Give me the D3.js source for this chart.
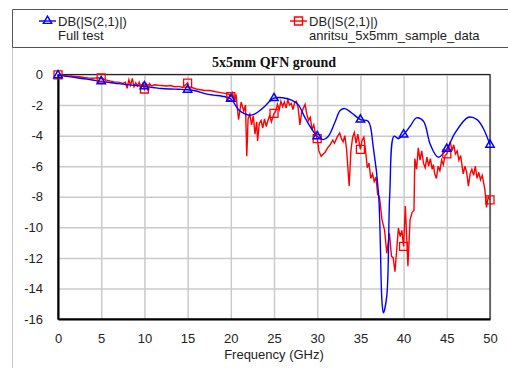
<!DOCTYPE html>
<html>
<head>
<meta charset="utf-8">
<script src="https://cdn.jsdelivr.net/npm/d3@7"></script>
<style>
  body { margin: 0; background: #fff; }
  svg text { font-family: "Liberation Sans", Arial, sans-serif; }
</style>
</head>
<body>
<svg id="chart"></svg>
<script>
// Full test (blue), frequency in GHz and S21 in dB
const fullFreq = [0, 1, 2, 3, 4, 5, 6, 7, 8, 9, 10, 11, 12, 13, 14, 15, 16, 17, 18, 19, 20,
  20.9, 21.5, 22.2, 22.8, 23.5, 24, 24.5, 25, 26, 27.1, 27.8, 28.6, 29.4, 30, 30.7, 31.3,
  32.1, 32.65, 33.2, 34, 35, 35.9, 36.5, 37.1, 37.5, 37.66, 38.05, 38.4, 38.9, 39.4, 40,
  40.75, 41.5, 42.3, 43.1, 44, 45, 45.96, 47.5, 48.5, 49.2, 50];
const fullDb = [-0.05, -0.12, -0.2, -0.28, -0.36, -0.45, -0.52, -0.6, -0.66, -0.72, -0.78,
  -0.85, -0.92, -0.95, -0.97, -1.0, -1.08, -1.25, -1.35, -1.42, -1.6,
  -2.3, -2.55, -2.67, -2.58, -2.3, -2.05, -1.75, -1.55, -1.52, -1.69, -1.97, -2.84, -3.6,
  -4.04, -4.26, -4.04, -3.06, -2.36, -2.23, -2.52, -2.95, -3.06, -4.8, -7.8, -14.9, -15.6,
  -14.5, -7.8, -4.04, -4.2, -3.93, -3.39, -2.84, -3.06, -4.59, -5.41, -4.87, -3.82, -2.8,
  -2.95, -3.5, -4.6];

// anritsu_5x5mm_sample_data (red)
const sampleFreq = [0, 0.5, 1, 1.5, 2, 2.5, 3, 3.5, 4, 4.5, 5, 5.5, 6, 6.5, 7, 7.5, 7.8, 8.0,
  8.2, 8.4, 8.6, 8.8, 9.0, 9.2, 9.4, 9.6, 9.8, 10, 10.2, 10.4, 10.6, 10.8, 11.2, 11.6, 12,
  12.5, 13, 13.5, 14, 14.4, 14.7, 15, 15.2, 15.5, 16, 16.5, 17, 17.5, 18, 18.5, 19, 19.5,
  19.8, 20, 20.2, 20.4, 20.6, 20.9, 21.2, 21.5, 21.7, 21.85, 22.0, 22.2, 22.4, 22.6, 22.8,
  23.0, 23.1, 23.3, 23.5, 23.7, 23.9, 24.1, 24.3, 24.5, 24.7, 25, 25.2, 25.4, 25.6, 25.8,
  26.0, 26.2, 26.4, 26.6, 26.8, 27.0, 27.2, 27.4, 27.6, 27.8, 28.0, 28.2, 28.4, 28.6, 28.8,
  29.0, 29.2, 29.4, 29.6, 29.8, 30.0, 30.2, 30.45, 30.7, 30.9, 31.2, 31.5, 31.8, 32.0, 32.3,
  32.6, 32.8, 33.0, 33.2, 33.4, 33.7, 33.9, 34.1, 34.3, 34.5, 34.7, 34.9, 35.0, 35.2, 35.4,
  35.6, 35.8, 36.0, 36.2, 36.4, 36.6, 36.8, 37.0, 37.2, 37.5, 37.8, 38.05, 38.36, 38.6, 38.8,
  39.0, 39.2, 39.4, 39.6, 39.8, 40.0, 40.2, 40.5, 40.75, 41.0, 41.2, 41.3, 41.5, 41.7, 41.9,
  42.1, 42.3, 42.5, 42.7, 42.9, 43.1, 43.3, 43.45, 43.6, 43.8, 44.0, 44.2, 44.4, 44.6, 44.8,
  45.0, 45.2, 45.4, 45.6, 45.8, 46.0, 46.2, 46.4, 46.6, 46.9, 47.1, 47.3, 47.5, 47.7, 47.9,
  48.1, 48.3, 48.5, 48.7, 48.9, 49.1, 49.4, 49.6, 49.8, 50.0];
const sampleDb = [-0.02, -0.05, -0.08, -0.1, -0.12, -0.15, -0.2, -0.23, -0.25, -0.22, -0.23,
  -0.35, -0.42, -0.48, -0.5, -0.58, -0.5, -0.9, -0.35, -0.7, -0.25, -0.8, -0.55, -0.75, -0.5,
  -0.85, -0.6, -0.95, -0.55, -1.05, -0.6, -0.75, -0.67, -0.7, -0.72, -0.75, -0.72, -0.8,
  -0.78, -0.85, -0.7, -0.56, -0.9, -0.85, -0.95, -1.0, -1.05, -1.05, -1.1, -1.15, -1.2,
  -1.25, -1.3, -1.45, -1.2, -1.7, -1.3, -2.95, -1.8, -2.4, -2.0, -5.35, -2.9, -2.6, -3.3,
  -2.7, -3.9, -3.1, -4.35, -3.2, -3.0, -3.5, -2.9, -3.4, -3.0, -2.7, -3.1, -2.55, -2.4,
  -1.95, -2.3, -1.75, -2.1, -1.8, -2.2, -1.65, -2.0, -1.9, -2.3, -1.8, -1.75, -2.2, -3.3,
  -2.5, -2.2, -1.95, -2.6, -3.0, -2.8, -3.6, -3.3, -3.9, -4.2, -5.0, -5.35, -5.2, -5.1, -4.8,
  -4.6, -4.3, -4.5, -4.1, -3.82, -4.2, -4.4, -4.0, -4.9, -7.3, -5.0, -4.1, -3.8, -4.5, -3.9,
  -4.6, -4.9, -4.3, -4.1, -5.0, -6.1, -5.8, -6.8, -6.5, -7.0, -6.7, -7.85, -8.0, -9.5, -10.2,
  -11.7, -10.4, -11.9, -12.0, -12.9, -11.5, -10.05, -10.6, -10.2, -11.25, -8.6, -12.55, -9.5,
  -9.0, -8.9, -5.5, -6.2, -4.8, -5.6, -5.0, -5.8, -6.1, -5.4, -6.0, -5.5, -6.2, -5.9, -6.5,
  -6.8, -6.0, -6.3, -5.6, -5.9, -5.3, -5.2, -4.8, -4.4, -5.0, -4.6, -5.2, -5.0, -5.6, -5.3,
  -6.5, -6.0, -6.4, -7.3, -6.5, -6.2, -6.6, -6.0, -6.8, -6.4, -6.9, -6.6, -7.5, -8.7, -8.0,
  -8.2];

const xTicks = [0, 5, 10, 15, 20, 25, 30, 35, 40, 45, 50];
const yTicks = [0, -2, -4, -6, -8, -10, -12, -14, -16];
const legendNames = ["DB(|S(2,1)|)", "DB(|S(2,1)|)"];
const legendSubs = ["Full test", "anritsu_5x5mm_sample_data"];

const w = 508;
const h = 368;
const plotLeft = 58, plotRight = 490, plotTop = 74.5, plotBottom = 319;

const svg = d3.select("#chart").attr("width", w).attr("height", h);

const xScale = d3.scaleLinear().domain([0, 50]).range([plotLeft, plotRight]);
const yScale = d3.scaleLinear().domain([-16, 0]).range([plotBottom, plotTop]);

const full = fullFreq.map((f, i) => ({ f: f, v: fullDb[i] }));
const sample = sampleFreq.map((f, i) => ({ f: f, v: sampleDb[i] }));

// outer frame
svg.append("line").attr("x1", 12.5).attr("x2", 12.5).attr("y1", 47).attr("y2", h)
  .attr("stroke", "#c8c8c8").attr("stroke-width", 1);
svg.append("path").attr("d", `M${w},9.5H12.5V47.5H${w}`)
  .attr("fill", "none").attr("stroke", "#555").attr("stroke-width", 1);

// grid
svg.append("g")
  .attr("transform", `translate(0, ${plotBottom})`)
  .call(d3.axisBottom(xScale).tickValues(xTicks).tickSize(-(plotBottom - plotTop)).tickFormat(""))
  .call((g) => g.select(".domain").remove())
  .selectAll("line").attr("stroke", "#cacaca").attr("stroke-width", 1.5);
svg.append("g")
  .attr("transform", `translate(${plotLeft}, 0)`)
  .call(d3.axisLeft(yScale).tickValues(yTicks).tickSize(-(plotRight - plotLeft)).tickFormat(""))
  .call((g) => g.select(".domain").remove())
  .selectAll("line").attr("stroke", "#cacaca").attr("stroke-width", 1.5);

// plot border
svg.append("rect").attr("x", plotLeft).attr("y", plotTop)
  .attr("width", plotRight - plotLeft).attr("height", plotBottom - plotTop)
  .attr("fill", "none").attr("stroke", "#222").attr("stroke-width", 1.2);

const xAxis = svg.append("g")
  .attr("transform", `translate(0, ${plotBottom})`)
  .call(d3.axisBottom(xScale).tickValues(xTicks).tickSize(0).tickPadding(15));
const yAxis = svg.append("g")
  .attr("transform", `translate(${plotLeft}, 0)`)
  .call(d3.axisLeft(yScale).tickValues(yTicks).tickSize(0).tickPadding(15).tickFormat((d) => d));
[xAxis, yAxis].forEach((g) => {
  g.select(".domain").attr("stroke", "#000").attr("stroke-width", 2);
  g.selectAll("text").attr("font-size", 13).attr("fill", "#222")
    .attr("font-family", "'Liberation Sans', Arial, sans-serif");
});

svg.append("clipPath").attr("id", "clip")
  .append("rect").attr("x", plotLeft).attr("y", plotTop - 2)
  .attr("width", plotRight - plotLeft).attr("height", plotBottom - plotTop + 4);

const plot = svg.append("g").attr("clip-path", "url(#clip)");

const redLine = d3.line().x((d) => xScale(d.f)).y((d) => yScale(d.v));
const blueLine = d3.line().x((d) => xScale(d.f)).y((d) => yScale(d.v)).curve(d3.curveCatmullRom.alpha(0.5));

plot.append("path").datum(sample).attr("d", redLine)
  .attr("fill", "none").attr("stroke", "#ff0000").attr("stroke-width", 1.4);
plot.append("path").datum(full).attr("d", blueLine)
  .attr("fill", "none").attr("stroke", "#0000ff").attr("stroke-width", 1.4);

const tri = d3.symbol().type(d3.symbolTriangle).size(30);
const sq = d3.symbol().type(d3.symbolSquare).size(64);

svg.selectAll(".sq").data(sample.filter((d) => xTicks.includes(d.f))).enter()
  .append("path").attr("class", "sq").attr("d", sq)
  .attr("transform", (d) => `translate(${xScale(d.f)}, ${yScale(d.v)})`)
  .attr("fill", "none").attr("stroke", "#ff0000").attr("stroke-width", 1.3);
svg.selectAll(".tri").data(full.filter((d) => xTicks.includes(d.f))).enter()
  .append("path").attr("class", "tri").attr("d", tri)
  .attr("transform", (d) => `translate(${xScale(d.f)}, ${yScale(d.v)})`)
  .attr("fill", "none").attr("stroke", "#0000ff").attr("stroke-width", 1.5);

// title and axis label
svg.append("text").attr("x", 274).attr("y", 67).attr("text-anchor", "middle")
  .style("font-family", "'Liberation Serif', 'Times New Roman', serif")
  .attr("font-weight", "bold").attr("font-size", 14).attr("fill", "#111")
  .text("5x5mm QFN ground");
svg.append("text").attr("x", 274).attr("y", 359).attr("text-anchor", "middle")
  .attr("font-size", 13).attr("fill", "#222").text("Frequency (GHz)");

// legend
const legendX = [39, 290];
const legendColors = ["#0000ff", "#ff0000"];
const legend = svg.selectAll(".legend").data(legendNames).enter()
  .append("g").attr("class", "legend")
  .attr("transform", (d, i) => `translate(${legendX[i]}, 0)`);
legend.append("line").attr("x1", 0).attr("x2", 17).attr("y1", 21).attr("y2", 21)
  .attr("stroke", (d, i) => legendColors[i]).attr("stroke-width", 1.4);
legend.append("path").attr("d", (d, i) => (i === 0 ? tri() : sq()))
  .attr("transform", "translate(8.5, 21)")
  .attr("fill", "none").attr("stroke", (d, i) => legendColors[i]).attr("stroke-width", 1.4);
legend.append("text").attr("x", 19).attr("y", 26).attr("font-size", 13).attr("fill", "#222")
  .text((d) => d);
legend.append("text").attr("x", 19).attr("y", 40).attr("font-size", 13).attr("fill", "#222")
  .text((d, i) => legendSubs[i]);
</script>
</body>
</html>
